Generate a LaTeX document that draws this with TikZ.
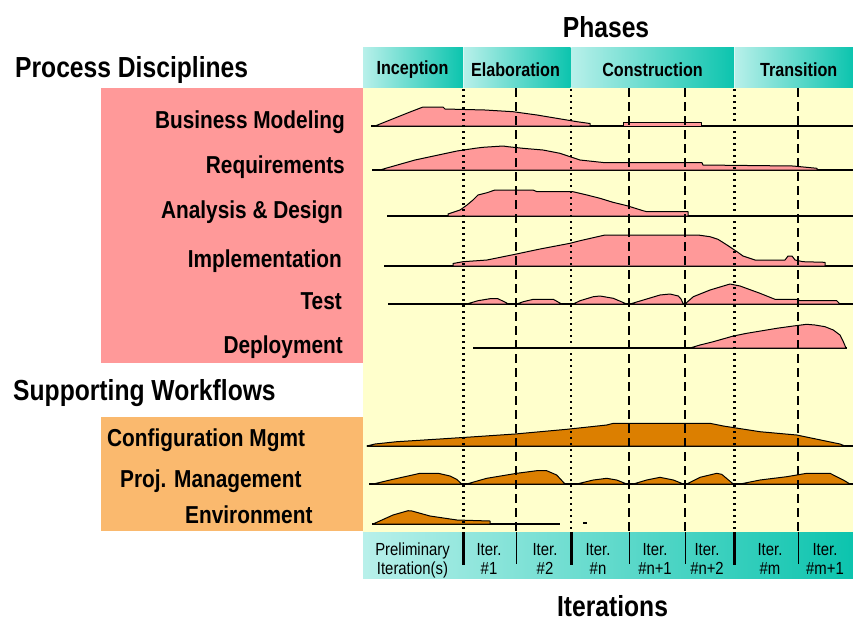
\documentclass[tikz,border=0pt]{standalone}
\usepackage{fontspec}
\setmainfont{Liberation Sans}[FakeStretch=0.85]
\definecolor{pinkbg}{HTML}{FF9999}
\definecolor{orangebg}{HTML}{FAB96E}
\definecolor{humporange}{HTML}{DC7F00}
\definecolor{chart}{HTML}{FFFFCC}
\definecolor{tealL}{HTML}{B8F0EA}
\definecolor{tealR}{HTML}{0CC4AE}
\begin{document}
\begin{tikzpicture}[x=1pt,y=-1pt,line join=round,
	headlbl/.style={font=\bfseries\fontsize{29}{31}\selectfont,inner sep=0pt},
	disclbl/.style={font=\bfseries\fontsize{24.5}{26}\selectfont,inner sep=0pt},
	phaselbl/.style={font=\bfseries\fontsize{19}{21}\selectfont,inner sep=0pt,anchor=base},
	iterlbl/.style={font=\fontsize{17.5}{19}\selectfont,inner sep=0pt,anchor=base},
	pinkhump/.style={fill=pinkbg,draw=black,line width=1pt},
	orangehump/.style={fill=humporange,draw=black,line width=1pt},
	axisline/.style={line width=1.1pt},
	thickaxis/.style={line width=2.2pt},
	phaseline/.style={line width=2.6pt,dash pattern=on 2.4pt off 3.6pt},
	iterline/.style={line width=1.1pt,dash pattern=on 9pt off 5pt}]
	\useasboundingbox (0,0) rectangle (853,622);
	% boxes
	\fill[pinkbg] (101,88) rectangle (363,362.5);
	\fill[orangebg] (101,416.7) rectangle (363,530.7);
	\fill[chart] (363,88) rectangle (853,532);
	\foreach \a/\b in {363/463,463.8/570.5,571.3/734,734.8/853}
	\shade[left color=tealL,right color=tealR] (\a,47.3) rectangle (\b,87.7);
	\shade[left color=tealL,right color=tealR] (363,532) rectangle (853,578.3);
	% axes of the rows
	\foreach \y/\a/\b in {126/371/853,170/372/853,216/387/853,266/384/853,304/388/853,
		348/473/847,446/367/853,484/369/853,524/372/560}
	\draw[axisline] (\a,\y) -- (\b,\y);
	\foreach \y/\a/\b in {126/590/768,170/817/840,216/415/448,216/688/840,266/415/453,
		266/825/850,524/490/560}
	\draw[thickaxis] (\a,\y) -- (\b,\y);
	\draw[thickaxis] (583,523) -- (587,523);
	% process disciplines
	\filldraw[pinkhump] plot coordinates {(375,126) (390,120) (410,112) (423,107) (443,107)
		(445,109) (485,110) (513,111.7) (537,115) (577,121.7) (590,123.5) (590,126)} -- cycle;
	\filldraw[pinkhump] plot coordinates {(623,126) (623,122.5) (701,122.5) (701,126)} -- cycle;
	\filldraw[pinkhump] plot coordinates {(380,170) (385,168.5) (415,160) (457,151) (475,148.3)
		(483,147.3) (503,146) (508,146.7) (523,148.3) (543,150) (560,153.3) (570,156.7)
		(580,160) (605,162.7) (702,162.7) (703,165) (793,166) (817,168.3) (817,170)} -- cycle;
	\filldraw[pinkhump] plot coordinates {(448,216) (448,214) (460,210) (467,205) (473,200)
		(478,195) (487,192.7) (495,190) (533,190) (537,191.7) (573,191.7) (587,195)
		(600,198.3) (613,202.3) (627,205.7) (643,210.7) (647,211.7) (688,211.7) (688,216)} -- cycle;
	\filldraw[pinkhump] plot coordinates {(453,266) (453,263.5) (463,261.7) (487,260) (515,254.3)
		(540,249) (570,243.3) (580,240.7) (605,235) (698,235) (710,236.7) (718,239.3)
		(727,245) (737,251.7) (743,256) (755,260) (785,260) (788,256) (792,256) (795,260)
		(803,261.7) (825,262.3) (825,266)} -- cycle;
	\filldraw[pinkhump] plot coordinates {(466.7,304) (478,300.7) (490,298.7) (498,298.7)
		(506.7,303) (508,304)} -- cycle;
	\filldraw[pinkhump] plot coordinates {(516.7,304) (523.3,301.7) (533.3,299.3) (553.3,299.3)
		(561.7,304)} -- cycle;
	\filldraw[pinkhump] plot coordinates {(573.3,304) (580,300.7) (593.3,296.7) (600,296)
		(613.3,298.3) (625,303.3) (626.7,304)} -- cycle;
	\filldraw[pinkhump] plot coordinates {(630,304) (643.3,300) (660,295) (670,294) (678.3,296)
		(681,299) (683.3,304)} -- cycle;
	\filldraw[pinkhump] plot coordinates {(685,304) (693.3,296.7) (710,290) (730,284) (740,286)
		(760,293.3) (775,299.3) (796.7,299.3) (800,300.7) (836.7,300.7) (840,304)} -- cycle;
	\filldraw[pinkhump] plot coordinates {(690,348) (700,345) (713.3,341.7) (733.3,336)
		(746.7,333.3) (776.7,328.3) (793.3,326) (806.7,324.3) (815,325) (825,326.7)
		(833.3,330) (840,335) (843.3,341.7) (846,348)} -- cycle;
	% supporting workflows
	\filldraw[orangehump] plot coordinates {(367,446) (375,444) (396.7,441.7) (435,439.3)
		(475,436.7) (515,434) (566.7,429.3) (606.7,425) (613.3,423.3) (710,423.3) (723.3,426)
		(760,431.7) (796.7,435) (840,444) (845,446)} -- cycle;
	\filldraw[orangehump] plot coordinates {(373.3,484) (390,480) (420,473.3) (438.3,473.3)
		(450,476) (456.7,479.3) (461.7,484)} -- cycle;
	\filldraw[orangehump] plot coordinates {(466.7,484) (486.7,478.3) (516.7,473.3) (536.7,470.7)
		(546.7,470.7) (556.7,475) (565,484)} -- cycle;
	\filldraw[orangehump] plot coordinates {(576.7,484) (593.3,480) (606.7,478.3) (616.7,480)
		(626.7,484)} -- cycle;
	\filldraw[orangehump] plot coordinates {(633.3,484) (646.7,480) (660,477.3) (673.3,480)
		(683.3,484)} -- cycle;
	\filldraw[orangehump] plot coordinates {(686.7,484) (700,477.3) (716.7,473.3) (721.7,474.3)
		(733.3,484)} -- cycle;
	\filldraw[orangehump] plot coordinates {(740,484) (760,480) (786.7,476.7) (806.7,473.3)
		(830,473.3) (843.3,480) (850,484)} -- cycle;
	\filldraw[orangehump] plot coordinates {(373,524) (393,515) (408,510.7) (412,511) (430,516)
		(457,520) (490,521) (490,524)} -- cycle;
	% phase and iteration borders
	\foreach \x in {463.5,571,734.5}{
		\draw[phaseline] (\x,89) -- (\x,532);
		\draw[line width=3pt] (\x,532) -- (\x,565);
	}
	\foreach \x in {516,629,685,798}{
		\draw[iterline] (\x,88) -- (\x,532);
		\draw[line width=1pt] (\x,532) -- (\x,564);
	}
	% texts
	\node[headlbl,anchor=base] (phases) at (606,37.3) {Phases};
	\node[headlbl,anchor=base,text depth=0pt] (iterations) at (612.5,616) {Iterations};
	\node[headlbl,anchor=base west] (procdisc) at (15,77.3) {Process Disciplines};
	\node[headlbl,anchor=base west] (suppwf) at (13,400) {Supporting Workflows};
	\foreach \n/\t/\x/\y in {bm/Business Modeling/345/128,req/Requirements/345/173,
		ad/Analysis \& Design/343/218,impl/Implementation/342/267,test/Test/342/309,
		depl/Deployment/343/353}
	\node[disclbl,anchor=base east] (\n) at (\x,\y) {\t};
	\node[disclbl,anchor=base west] (cm) at (107,446.7) {Configuration Mgmt};
	\node[disclbl,anchor=base west] (pm) at (120,487.7) {Proj. Management};
	\node[disclbl,anchor=base west] (env) at (185,523.3) {Environment};
	\foreach \n/\t/\x/\y in {inc/Inception/412.5/74.3,elab/Elaboration/515.5/76,
		cons/Construction/652.5/76,trans/Transition/798.7/76}
	\node[phaselbl] (\n) at (\x,\y) {\t};
	\foreach \n/\a/\b/\x in {pre/Preliminary/Iteration(s)/412.5,it1/Iter./\#1/489,
		it2/Iter./\#2/545,itn/Iter./\#n/598,itna/Iter./\#n+1/655,itnb/Iter./\#n+2/707,
		itm/Iter./\#m/770,itma/Iter./\#m+1/825}{
		\node[iterlbl] (\n-top) at (\x,555) {\a};
		\node[iterlbl] (\n-bot) at (\x,574) {\b};
	}
\end{tikzpicture}
\end{document}
